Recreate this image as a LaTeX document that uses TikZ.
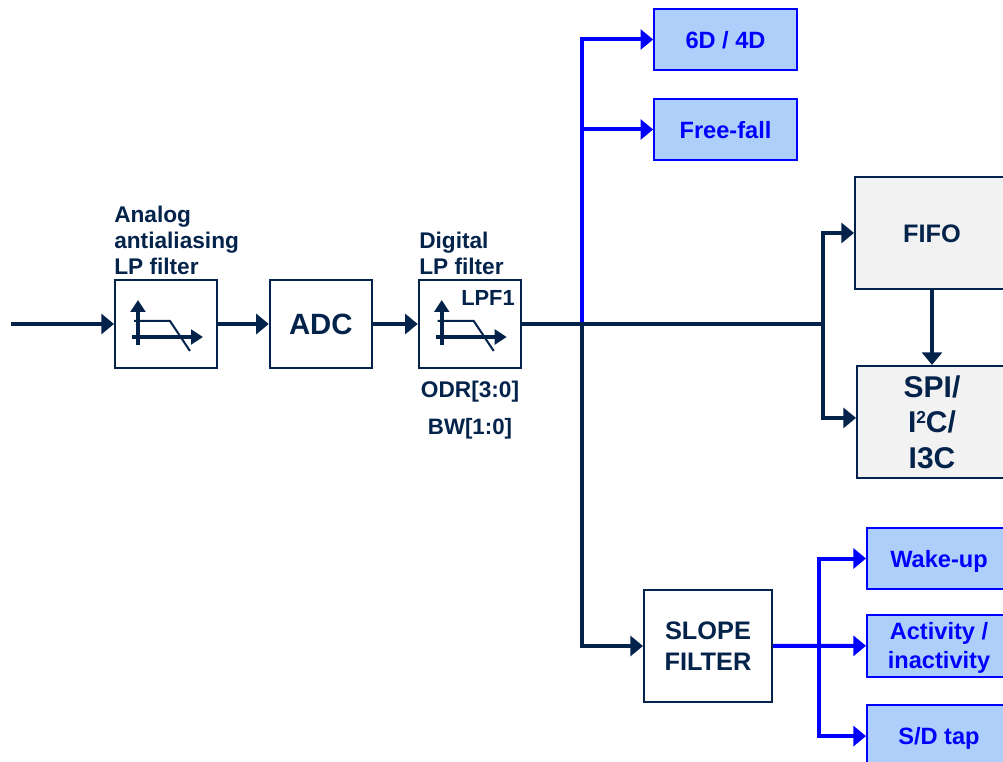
\documentclass[tikz,border=0pt]{standalone}
\usepackage{fontspec}
\setmainfont{Liberation Sans}
\usetikzlibrary{arrows.meta,positioning}
\definecolor{navy}{HTML}{03234B}
\definecolor{paleblue}{HTML}{ADCFFA}
\definecolor{palegray}{HTML}{F2F2F2}
\newcommand{\fsize}[2]{\fontsize{#1pt}{#2pt}\selectfont\bfseries}

\begin{document}
\begin{tikzpicture}[
    x=0.75pt, y=-0.75pt,
    every node/.style={inner sep=0pt, align=center, text=navy},
    block/.style={draw=navy, line width=1.5pt, fill=white, minimum width=76.5pt, minimum height=66pt},
    store/.style={draw=navy, line width=1.5pt, fill=palegray, minimum height=84pt},
    event/.style={draw=blue, line width=1.5pt, fill=paleblue, text=blue, minimum height=46pt, text depth=0pt, font=\fsize{17.7}{21.7}},
    note/.style={align=left, font=\fsize{17}{19.5}},
    wire/.style={navy, line width=3pt},
    flow/.style={wire, -{Triangle[length=9.5pt,width=15pt]}},
    blueflow/.style={flow, blue},
    axis/.style={navy, line width=3pt, -{Triangle[length=9pt,width=11pt]}}
]
\useasboundingbox (0,0) rectangle (1003,762);

% signal chain
\coordinate (input) at (11,324);
\node[block] (analog) at (166,324) {};
\node[block, right=38.1pt of analog, font=\fsize{22}{26}] (adc) {ADC};
\node[block, right=33.7pt of adc] (lpf) {};
\node[note, anchor=south west] (analogtxt) at (114,275) {Analog\\antialiasing\\LP filter};
\node[note, anchor=south west] (lpftxt) at (419,275) {Digital\\LP filter};
\node[font=\fsize{16.4}{19}] (lpfname) at (488,298) {LPF1};
\node[font=\fsize{17}{21}] (odr) at (470,392) {ODR[3:0]};
\node[font=\fsize{16.7}{20}] (bw) at (470,429) {BW[1:0]};

% filter curves
\foreach \filt in {analog,lpf} {
  \begin{scope}[shift={(\filt.center)}]
    \draw[axis] (-28,21) -- (-28,-24);
    \draw[axis] (-34,13) -- (37,13);
    \draw[navy, line width=1.5pt] (-32,-3) -- (4,-3) -- (24,27);
  \end{scope}
}

% outputs
\node[event, minimum width=107pt] (sixd) at (725.5,39.5) {6D / 4D};
\node[event, minimum width=107pt, below=20pt of sixd] (freefall) {Free-fall};
\node[store, minimum width=115.5pt, text depth=0pt, font=\fsize{19}{23}] (fifo) at (932,233) {\raisebox{-1.5pt}{FIFO}};
\node[store, minimum width=112.5pt, below=56.2pt of fifo, font=\fsize{22.5}{26.6}] (spi) {SPI/\\I\raisebox{7pt}{\fontsize{13}{15}\selectfont 2}C/\\I3C};
\node[block, minimum width=96pt, minimum height=84pt, font=\fsize{19}{23.2}] (slope) at (708,646) {SLOPE\\FILTER};
\node[event, minimum width=108pt] (wakeup) at (939,558.5) {Wake-up};
\node[event, minimum width=108pt, below=18pt of wakeup] (activity) {Activity /\\inactivity};
\node[event, minimum width=108pt, below=20.2pt of activity] (tap) {S/D tap};

\coordinate (branch) at (582,324);
\coordinate (hub) at (823,324);
\coordinate (fan) at (819,646);
\coordinate (spiin) at ([yshift=3pt]spi.west);

% connectors
\draw[flow] (input) -- (analog.west);
\draw[flow] (analog.east) -- (adc.west);
\draw[flow] (adc.east) -- (lpf.west);
\draw[blueflow] (branch) |- (sixd.west);
\draw[blueflow] (branch |- freefall.west) -- (freefall.west);
\draw[wire] (lpf.east) -- (hub);
\draw[flow] (branch) |- (slope.west);
\draw[flow] (hub) |- (fifo.west);
\draw[flow] (hub) |- (spiin);
\draw[flow] (fifo.south) -- (spi.north);
\draw[blueflow] (slope.east) -- (activity.west);
\draw[blueflow] (fan) |- (wakeup.west);
\draw[blueflow] (fan) |- (tap.west);
\end{tikzpicture}
\end{document}
